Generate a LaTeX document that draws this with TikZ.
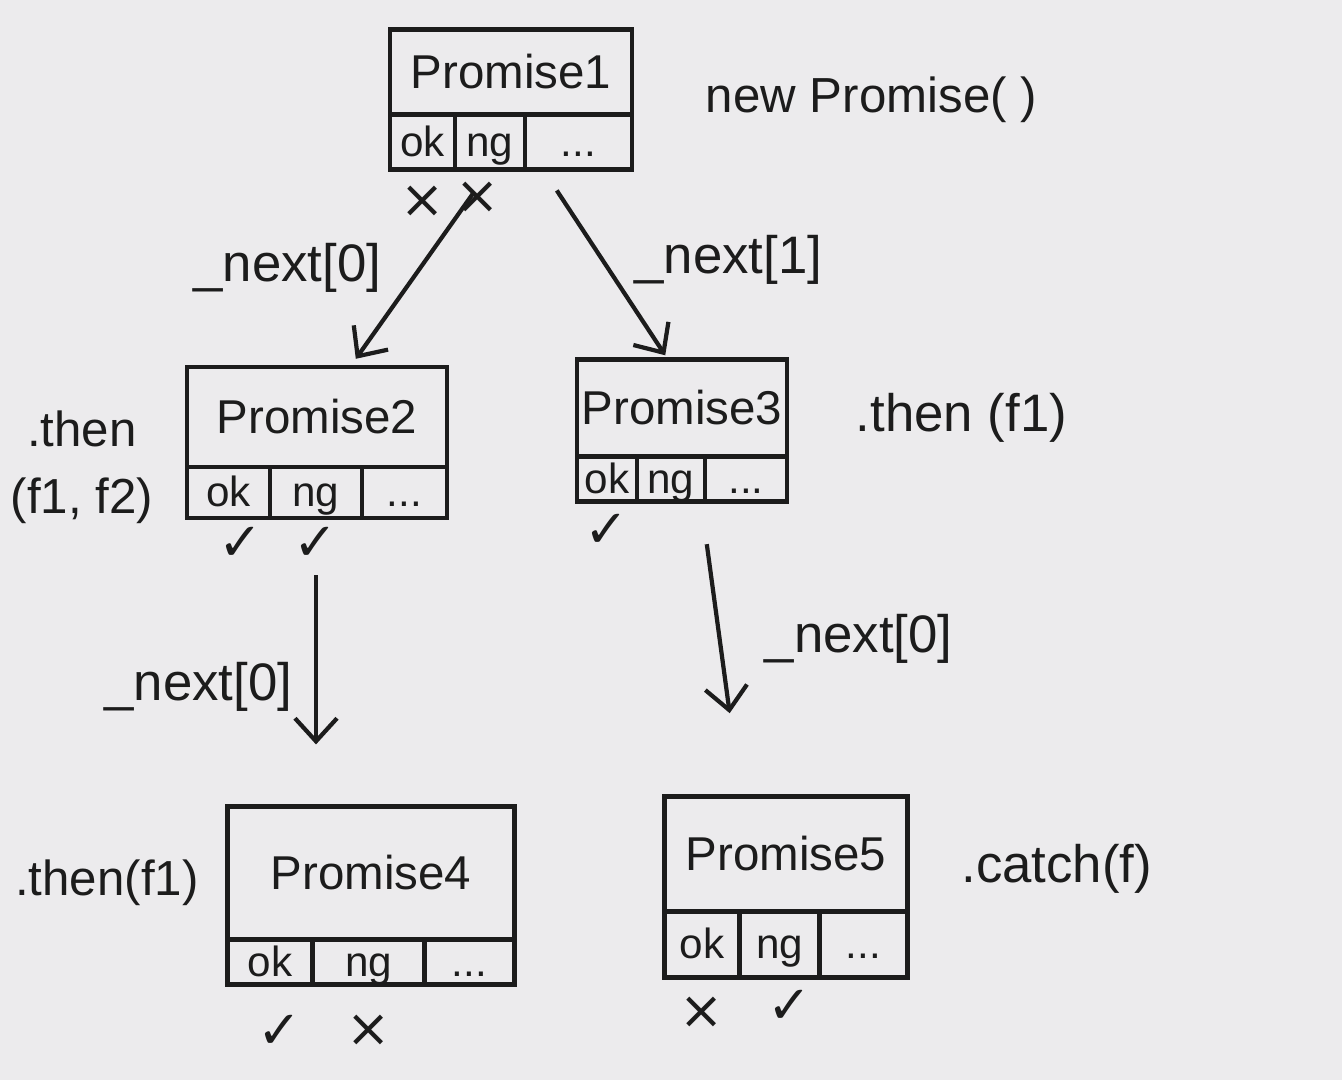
\documentclass[tikz,border=0pt]{standalone}
\usepackage{fontspec}
\setmainfont{Liberation Sans}
\newfontfamily\marksfont{DejaVu Sans}
\usetikzlibrary{arrows.meta,positioning}

\definecolor{paper}{RGB}{236,235,237}
\definecolor{ink}{RGB}{28,28,28}

\begin{document}
\begin{tikzpicture}[x=0.01cm,y=-0.01cm,>={Straight Barb[length=2.3mm,width=4.2mm]},
                    line width=1.2pt,draw=ink,text=ink,node distance=1pt,
                    font=\fontsize{15}{18}\selectfont]
  \tikzstyle{title}=[draw=ink,rectangle,inner sep=0pt,outer sep=0pt,
                     font=\fontsize{13.5}{16}\selectfont]
  \tikzstyle{slot}=[draw=ink,rectangle,inner sep=0pt,outer sep=0pt,
                    text height=9pt,text depth=1pt,font=\fontsize{12}{14}\selectfont]
  \tikzstyle{tick}=[inner sep=0pt,font=\marksfont\fontsize{15}{17}\selectfont]
  \tikzstyle{link}=[draw=ink,->]

  % paper
  \fill[paper] (0,0) rectangle (1342,1080);
  \useasboundingbox (0,0) rectangle (1342,1080);

  % Promise1
  \node[title, minimum width=2.42cm, minimum height=0.85cm] (p1) at (511,72) {Promise1};
  \node[slot, minimum width=0.65cm, minimum height=0.55cm, anchor=north west] (p1ok) at (p1.south west) {ok};
  \node[slot, minimum width=0.70cm, minimum height=0.55cm, right=0pt of p1ok] (p1ng) {ng};
  \node[slot, minimum width=1.07cm, minimum height=0.55cm, right=0pt of p1ng] (p1etc) {...};
  \node[tick, below=4pt of p1ok] (p1okm) {×};
  \node[tick, below=3pt of p1ng, xshift=-0.12cm] (p1ngm) {×};
  \node[right=0.6cm of p1, yshift=-0.28cm, font=\fontsize{14}{17}\selectfont] (p1op) {new Promise( )};

  % Promise2
  \node[title, minimum width=2.60cm, minimum height=1.00cm] (p2) at (317,417) {Promise2};
  \node[slot, minimum width=0.83cm, minimum height=0.51cm, anchor=north west] (p2ok) at (p2.south west) {ok};
  \node[slot, minimum width=0.92cm, minimum height=0.51cm, right=0pt of p2ok] (p2ng) {ng};
  \node[slot, minimum width=0.85cm, minimum height=0.51cm, right=0pt of p2ng] (p2etc) {...};
  \node[tick, below=2pt of p2ok, xshift=0.12cm] (p2okm) {✓};
  \node[tick, below=2pt of p2ng] (p2ngm) {✓};
  \node[left=0.2cm of p2.south west, align=center, font=\fontsize{14}{19}\selectfont] (p2op) {.then\\(f1, f2)};

  % Promise3
  \node[title, minimum width=2.10cm, minimum height=0.97cm] (p3) at (682,408) {Promise3};
  \node[slot, minimum width=0.60cm, minimum height=0.45cm, anchor=north west] (p3ok) at (p3.south west) {ok};
  \node[slot, minimum width=0.68cm, minimum height=0.45cm, right=0pt of p3ok] (p3ng) {ng};
  \node[slot, minimum width=0.82cm, minimum height=0.45cm, right=0pt of p3ng] (p3etc) {...};
  \node[tick, below=3pt of p3ok] (p3okm) {✓};
  \node[right=0.55cm of p3, yshift=-0.1cm] (p3op) {.then (f1)};

  % Promise4
  \node[title, minimum width=2.87cm, minimum height=1.33cm] (p4) at (371,873) {Promise4};
  \node[slot, minimum width=0.85cm, minimum height=0.45cm, anchor=north west] (p4ok) at (p4.south west) {ok};
  \node[slot, minimum width=1.12cm, minimum height=0.45cm, right=0pt of p4ok] (p4ng) {ng};
  \node[slot, minimum width=0.90cm, minimum height=0.45cm, right=0pt of p4ng] (p4etc) {...};
  \node[tick, below=8pt of p4ok, xshift=0.1cm] (p4okm) {✓};
  \node[tick, below=8pt of p4ng] (p4ngm) {×};
  \node[left=0.15cm of p4, yshift=-0.1cm, font=\fontsize{14}{17}\selectfont] (p4op) {.then(f1)};

  % Promise5
  \node[title, minimum width=2.43cm, minimum height=1.15cm] (p5) at (786,854) {Promise5};
  \node[slot, minimum width=0.75cm, minimum height=0.66cm, anchor=north west] (p5ok) at (p5.south west) {ok};
  \node[slot, minimum width=0.80cm, minimum height=0.66cm, right=0pt of p5ok] (p5ng) {ng};
  \node[slot, minimum width=0.88cm, minimum height=0.66cm, right=0pt of p5ng] (p5etc) {...};
  \node[tick, below=5pt of p5ok] (p5okm) {×};
  \node[tick, below=3pt of p5ng, xshift=0.1cm] (p5ngm) {✓};
  \node[right=0.4cm of p5, yshift=-0.15cm] (p5op) {.catch(f)};

  % links
  \draw[link, shorten <=0.3cm, shorten >=0.1cm] (p1ng.south) -- ([xshift=0.33cm]p2.north)
    node[midway, left=0.25cm] (n10) {\_next[0]};
  \draw[link, shorten <=0.25cm, shorten >=0.05cm] ([xshift=0.18cm]p1ng.south east) -- ([xshift=-0.14cm]p3.north)
    node[midway, right=0.15cm, yshift=0.05cm] (n11) {\_next[1]};
  \draw[link, shorten <=0.57cm, shorten >=0.62cm] (p2ng.south) -- (p2ng.south |- p4.north)
    node[midway, left=0.1cm, yshift=-0.25cm] (n20) {\_next[0]};
  \draw[link, shorten <=0.43cm, shorten >=0.84cm] ([xshift=0.3cm]p3ng.south) -- ([xshift=-0.45cm]p5.north)
    node[midway, right=0.3cm, yshift=0.1cm] (n30) {\_next[0]};
\end{tikzpicture}
\end{document}
